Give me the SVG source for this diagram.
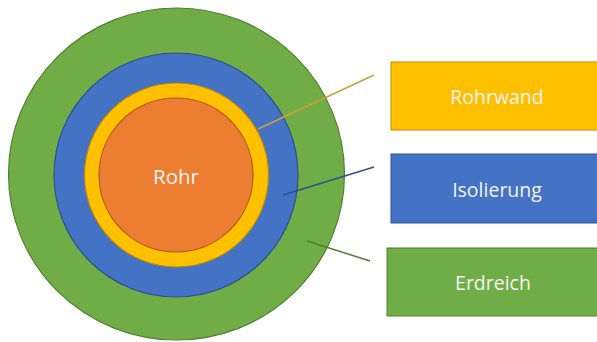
<svg xmlns="http://www.w3.org/2000/svg" width="597" height="342" viewBox="0 0 597 342">
<style>
.lbl{font-family:"Open Sans","Liberation Sans",sans-serif;font-size:19.5px;fill:#F4F4F4;text-anchor:middle}
</style>
<rect width="597" height="342" fill="#FFFFFF"/>
<g id="erdreich-ring"><ellipse cx="176.5" cy="174" rx="168" ry="166" fill="#70AD47" stroke="#507E32" stroke-width="1.2"/></g>
<g id="isolierung-ring"><circle cx="176" cy="175" r="122" fill="#4472C4" stroke="#2F528F" stroke-width="1.2"/></g>
<g id="rohrwand-ring"><circle cx="176.5" cy="175" r="92" fill="#FFC000" stroke="#BC8C00" stroke-width="1.2"/></g>
<g id="rohr"><circle cx="176" cy="175" r="77" fill="#ED7D31" stroke="#AE5A21" stroke-width="1.2"/>
<text class="lbl" x="176" y="184" style="font-size:20.5px">Rohr</text></g>
<g id="connectors" fill="none" stroke-width="1.5">
<line x1="258" y1="129" x2="374" y2="75" stroke="#C9A03A"/>
<line x1="283" y1="195" x2="374" y2="167" stroke="#2F528F"/>
<line x1="307" y1="241" x2="370" y2="261" stroke="#507E32"/>
</g>
<g id="box-rohrwand"><rect x="391" y="62" width="210" height="68" fill="#FFC000" stroke="#BC8C00" stroke-width="1"/>
<text class="lbl" x="497" y="104">Rohrwand</text></g>
<g id="box-isolierung"><rect x="391" y="154" width="210" height="69" fill="#4472C4" stroke="#2F528F" stroke-width="1"/>
<text class="lbl" x="497" y="197">Isolierung</text></g>
<g id="box-erdreich"><rect x="387" y="248" width="214" height="68" fill="#70AD47" stroke="#507E32" stroke-width="1"/>
<text class="lbl" x="493" y="290">Erdreich</text></g>
</svg>
